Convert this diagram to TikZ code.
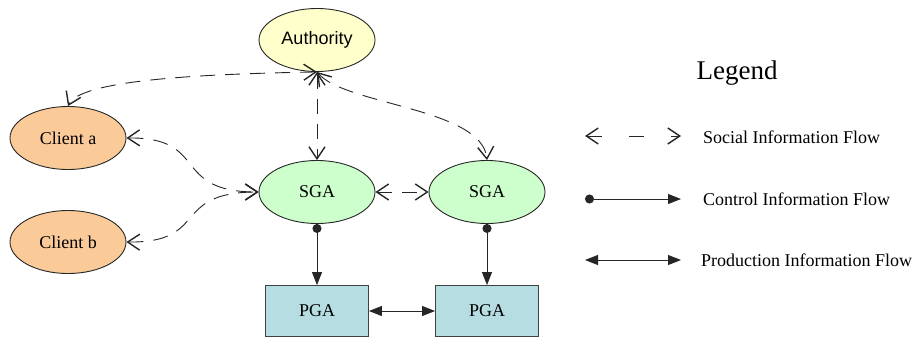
\documentclass[tikz,border=0pt]{standalone}
\usepackage{fontspec}
\setmainfont{Liberation Serif}
\newfontfamily\helv{Liberation Sans}
\newfontfamily\tms{Liberation Serif}
\usetikzlibrary{shapes.geometric,arrows.meta}
\definecolor{authfill}{HTML}{FFFFCC}
\definecolor{clientfill}{HTML}{FACA99}
\definecolor{sgafill}{HTML}{CCFFCC}
\definecolor{pgafill}{HTML}{B6DEE2}
\tikzset{
  ell/.style={ellipse, draw=black!85, line width=0.9pt, minimum width=116pt, minimum height=63pt, inner sep=0pt, font=\tms\fontsize{18}{20}\selectfont},
  pga/.style={rectangle, draw=black!75, line width=0.9pt, minimum width=103pt, minimum height=51pt, inner sep=0pt, fill=pgafill, font=\tms\fontsize{18}{20}\selectfont},
  social/.style={line width=0.9pt, draw=black!85, dash pattern=on 15pt off 10pt, {Straight Barb[length=12pt,width=16pt,line width=1.4pt]}-{Straight Barb[length=12pt,width=16pt,line width=1.4pt]}},
  control/.style={line width=0.9pt, draw=black!85, {Circle[length=9pt]}-{Triangle[length=13pt,width=10pt]}},
  production/.style={line width=0.9pt, draw=black!85, {Triangle[length=13pt,width=10pt]}-{Triangle[length=13pt,width=10pt]}},
  lbl/.style={anchor=west, inner sep=0pt, font=\tms\fontsize{18}{20}\selectfont},
}
\begin{document}
\begin{tikzpicture}[x=1pt,y=-1pt]
\useasboundingbox (0,0) rectangle (917,341);
\node[ell, fill=authfill, font=\helv\fontsize{18}{20}\selectfont] (auth) at (317,40) {Authority};
\node[ell, fill=clientfill] (ca) at (68,138) {Client a};
\node[ell, fill=clientfill] (cb) at (68,242) {Client b};
\node[ell, fill=sgafill] (s1) at (317,192) {SGA};
\node[ell, fill=sgafill] (s2) at (487,192) {SGA};
\node[pga] (p1) at (317,311) {PGA};
\node[pga] (p2) at (487,311) {PGA};

\draw[social] (auth.south) .. controls (200,74) and (80,80) .. (ca.north);
\draw[social] (auth.south) -- (s1.north);
\draw[social] (auth.south) .. controls (345,105) and (482,108) .. (s2.north);
\draw[social] (ca.east) .. controls (210,137) and (170,192) .. (s1.west);
\draw[social] (cb.east) .. controls (210,243) and (170,192) .. (s1.west);
\draw[social] (s1.east) -- (s2.west);
\draw[control] (s1.south) -- (p1.north);
\draw[control] (s2.south) -- (p2.north);
\draw[production] (p1.east) -- (p2.west);

% legend
\node[font=\tms\fontsize{27}{30}\selectfont, inner sep=0pt] (legend) at (737,73) {Legend};
\coordinate (a1) at (585,136); \coordinate (b1) at (681,136);
\coordinate (a2) at (585,199); \coordinate (b2) at (681,199);
\coordinate (a3) at (585,260); \coordinate (b3) at (681,260);
\draw[social, dash pattern=on 15pt off 27pt] (a1) -- (b1);
\draw[control] (a2) -- (b2);
\draw[production] (a3) -- (b3);
\node[lbl] (t1) at (703,137) {Social Information Flow};
\node[lbl] (t2) at (703,199) {Control Information Flow};
\node[lbl] (t3) at (701,260) {Production Information Flow};
\end{tikzpicture}
\end{document}
